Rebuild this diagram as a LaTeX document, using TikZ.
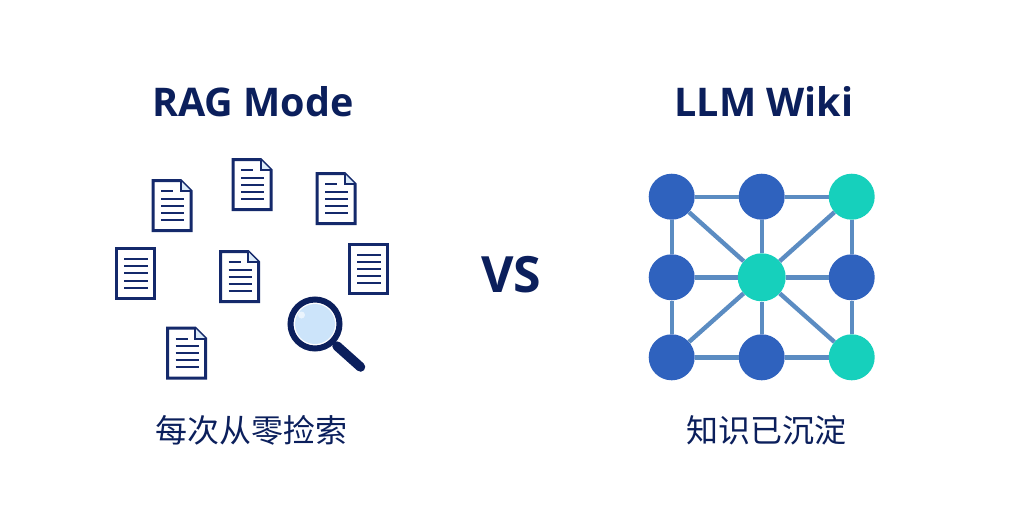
\documentclass[tikz,border=0pt]{standalone}
\usepackage{fontspec}
\setmainfont{Open Sans}
\newfontfamily\cjk{Noto Sans CJK SC}
\definecolor{navy}{HTML}{0B1F5C}
\definecolor{docblue}{HTML}{14296B}
\definecolor{nodeblue}{HTML}{2F62BE}
\definecolor{nodeteal}{HTML}{16D0BC}
\definecolor{edgeblue}{HTML}{5B8CC2}
\definecolor{lensblue}{HTML}{CCE4FA}
\definecolor{foldblue}{HTML}{DCEBF9}
\tikzset{
  x=1pt,y=-1pt,
  title/.style={font=\fontsize{39.5}{39.5}\selectfont\bfseries,text=navy,inner sep=0pt,anchor=base},
  caption/.style={font=\cjk\fontsize{32}{32}\selectfont,text=navy,inner sep=0pt,anchor=base},
  vslabel/.style={font=\fontsize{50}{50}\selectfont\bfseries,text=navy,inner sep=0pt,anchor=base},
  docoutline/.style={draw=docblue,line width=3pt,fill=white,line join=miter},
  docline/.style={draw=docblue,line width=2pt},
  bluenode/.style={circle,fill=nodeblue,minimum size=46pt,inner sep=0pt},
  tealnode/.style={circle,fill=nodeteal,minimum size=46pt,inner sep=0pt},
  centernode/.style={circle,fill=nodeteal,minimum size=48pt,inner sep=0pt},
  link/.style={draw=edgeblue,line width=4.4pt},
}
\newcommand{\foldeddoc}[2]{%
  \begin{scope}[shift={(#1,#2)}]
    \draw[docoutline] (1,1) -- (28.5,1) -- (39,11.5) -- (39,51) -- (1,51) -- cycle;
    \fill[foldblue] (28.5,1) -- (28.5,11.5) -- (39,11.5) -- cycle;
    \draw[docline] (28.5,1) -- (28.5,11.5) -- (39,11.5);
    \draw[docline] (9,11.5) -- (21,11.5);
    \foreach \ly in {19,26,33,40} \draw[docline] (9,\ly) -- (32,\ly);
  \end{scope}}
\newcommand{\plaindoc}[2]{%
  \begin{scope}[shift={(#1,#2)}]
    \draw[docoutline] (1,1) rectangle (39,50.5);
    \foreach \ly in {11.5,18.5,25.5,33,40} \draw[docline] (8.5,\ly) -- (32,\ly);
  \end{scope}}
\begin{document}
\begin{tikzpicture}
\useasboundingbox[fill=white] (0,0) rectangle (1024,512);
\node[title] (ragtitle) at (253,116) {RAG Mode};
\node[title] (wikititle) at (764,116) {LLM Wiki};
\node[vslabel] (vs) at (511.5,292) {VS};
\node[caption] (ragcap) at (251.5,442) {每次从零捡索};
\node[caption] (wikicap) at (766.5,442) {知识已沉淀};

\foldeddoc{152}{179.5}
\foldeddoc{232}{158.5}
\foldeddoc{316}{172.5}
\plaindoc{115.5}{247.5}
\foldeddoc{219.5}{250.5}
\plaindoc{348.5}{243}
\foldeddoc{166.5}{327}

% magnifier
\draw[draw=navy,line width=9.5pt,line cap=round] (337,346) -- (360.5,367);
\fill[white] (315,324) circle (24);
\fill[lensblue] (315,324) circle (20);
\fill[white,opacity=.6] (301.5,315) circle (3.5);
\draw[draw=navy,line width=6pt] (315,324) circle (24.5);

% network
\node[bluenode] (tl) at (671.7,196.7) {};
\node[bluenode] (tm) at (761.7,196.7) {};
\node[tealnode] (tr) at (851.7,196.7) {};
\node[bluenode] (ml) at (671.7,277.3) {};
\node[centernode] (c) at (761.7,277.3) {};
\node[bluenode] (mr) at (851.7,277.3) {};
\node[bluenode] (bl) at (671.7,357.3) {};
\node[bluenode] (bm) at (761.7,357.3) {};
\node[tealnode] (br) at (851.7,357.3) {};
\foreach \a/\b in {tl/tm,tm/tr,ml/c,c/mr,bl/bm,bm/br,tl/ml,ml/bl,tm/c,c/bm,tr/mr,mr/br,tl/c,tr/c,bl/c,br/c}
  \draw[link] (\a) -- (\b);
\end{tikzpicture}
\end{document}
